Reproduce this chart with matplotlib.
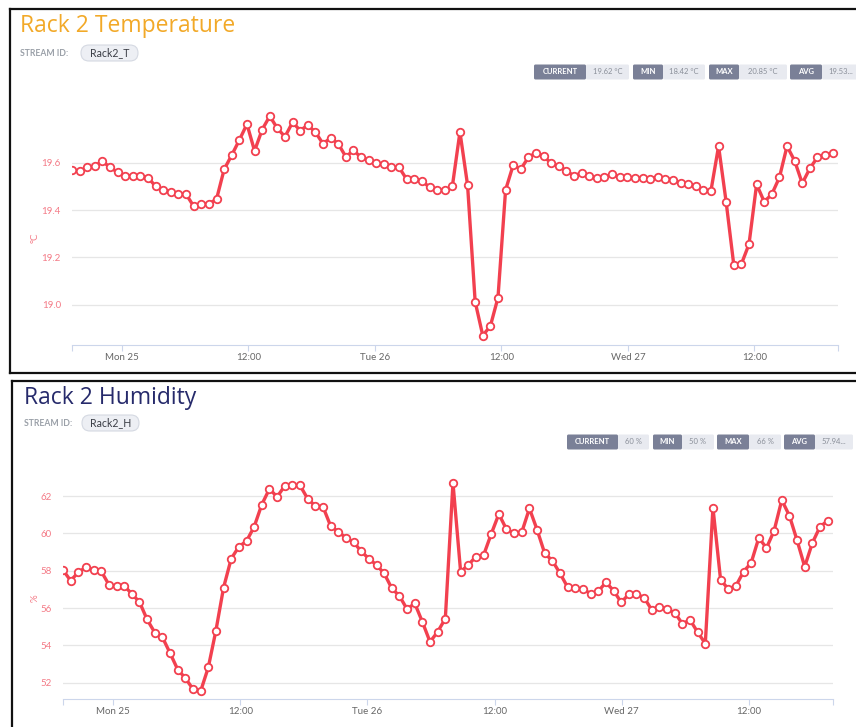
import numpy as np
import matplotlib
matplotlib.use("Agg")
import matplotlib.pyplot as plt
from matplotlib.patches import FancyBboxPatch

plt.rcParams['font.family'] = ['Lato', 'DejaVu Sans']

# sampled readings (one every ~43 min, starting Sun 24 ~19:15)
temperature = [19.57, 19.565, 19.58, 19.586, 19.607, 19.58, 19.56, 19.545, 19.545, 19.545,
               19.537, 19.50, 19.485, 19.478, 19.467, 19.467, 19.416, 19.427, 19.427, 19.446,
               19.572, 19.632, 19.696, 19.763, 19.65, 19.74, 19.797, 19.745, 19.71, 19.771,
               19.736, 19.759, 19.729, 19.68, 19.705, 19.68, 19.625, 19.652, 19.623, 19.611,
               19.60, 19.593, 19.58, 19.58, 19.53, 19.53, 19.524, 19.496, 19.484, 19.484,
               19.50, 19.73, 19.506, 19.013, 18.87, 18.91, 19.03, 19.485, 19.59, 19.573,
               19.623, 19.642, 19.628, 19.597, 19.586, 19.566, 19.544, 19.558, 19.543, 19.534,
               19.538, 19.552, 19.538, 19.538, 19.535, 19.537, 19.531, 19.541, 19.533, 19.528,
               19.514, 19.509, 19.50, 19.485, 19.482, 19.67, 19.433, 19.168, 19.172, 19.256,
               19.509, 19.435, 19.467, 19.538, 19.67, 19.608, 19.513, 19.576, 19.623, 19.631,
               19.64]

humidity = [58.04, 57.47, 57.92, 58.19, 58.04, 57.97, 57.26, 57.17, 57.20, 56.76,
            56.33, 55.39, 54.69, 54.44, 53.59, 52.71, 52.25, 51.66, 51.55, 52.82,
            54.80, 57.10, 58.65, 59.29, 59.59, 60.36, 61.55, 62.39, 61.96, 62.55,
            62.57, 62.57, 61.86, 61.47, 61.43, 60.40, 60.09, 59.77, 59.54, 59.04,
            58.65, 58.31, 57.86, 57.06, 56.65, 55.94, 56.26, 55.26, 54.19, 54.73,
            55.44, 62.71, 57.95, 58.31, 58.76, 58.83, 59.97, 61.04, 60.22, 60.02,
            60.07, 61.34, 60.20, 58.93, 58.54, 57.86, 57.12, 57.06, 57.04, 56.76,
            56.90, 57.38, 56.94, 56.31, 56.74, 56.76, 56.56, 55.90, 56.08, 55.94,
            55.76, 55.16, 55.37, 54.71, 54.10, 61.38, 57.51, 57.03, 57.19, 57.95,
            58.43, 59.77, 59.22, 60.15, 61.79, 60.95, 59.63, 58.22, 59.49, 60.36,
            60.68]

# hours relative to Mon 25 00:00
t_start = -4.73
t_step = 0.7216
hours = t_start + t_step * np.arange(len(temperature))

tick_hours = [0, 12, 24, 36, 48, 60]
tick_labels = ['Mon 25', '12:00', 'Tue 26', '12:00', 'Wed 27', '12:00']

temp_stats = [('CURRENT', '19.62 °C'), ('MIN', '18.42 °C'), ('MAX', '20.85 °C'), ('AVG', '19.53...')]
hum_stats = [('CURRENT', '60 %'), ('MIN', '50 %'), ('MAX', '66 %'), ('AVG', '57.94...')]

W, H = 856, 727
RED = '#f2404f'
PINK = '#f47a86'

fig = plt.figure(figsize=(W / 100, H / 100), dpi=100)
bg = fig.add_axes([0, 0, 1, 1])
bg.set_xlim(0, W)
bg.set_ylim(H, 0)
bg.axis('off')


def px_axes(left, top, right, bottom):
    return fig.add_axes([left / W, 1 - bottom / H, (right - left) / W, (bottom - top) / H],
                        facecolor='none')


def header(x0, y_title, title, color, sid, pill_x, y_sid, stats, box_edges, y_box):
    bg.text(x0, y_title, title, fontsize=16.5, color=color, va='center', ha='left',
            family=['Open Sans', 'DejaVu Sans'])
    bg.text(x0, y_sid, 'STREAM ID:', fontsize=6.2, color='#9aa0a8', va='center',
            ha='left', fontweight='bold')
    bg.add_patch(FancyBboxPatch((pill_x, y_sid - 8), 57, 16,
                                boxstyle='round,pad=0,rounding_size=8',
                                fc='#edeff4', ec='#d5d9e2', lw=0.8))
    bg.text(pill_x + 28.5, y_sid, sid, fontsize=7.6, color='#3a3d45', va='center', ha='center')
    for (lab, val), (a, b, c) in zip(stats, box_edges):
        bg.add_patch(FancyBboxPatch((a, y_box - 7.5), b - a, 15,
                                    boxstyle='round,pad=0,rounding_size=1.5',
                                    fc='#7a8097', ec='none'))
        bg.add_patch(FancyBboxPatch((b, y_box - 7.5), c - b, 15,
                                    boxstyle='round,pad=0,rounding_size=1.5',
                                    fc='#e8eaf0', ec='none'))
        bg.text((a + b) / 2, y_box, lab, fontsize=5.5, color='white', fontweight='bold',
                va='center', ha='center')
        bg.text((b + c) / 2, y_box, val, fontsize=5.5, color='#8a8f99',
                va='center', ha='center')


def chart(ax, values, ylim, yticks, yfmt):
    ax.plot(hours, values, color=RED, lw=2.4, marker='o', ms=5.4, mfc='white',
            mec=RED, mew=1.3, zorder=3, solid_joinstyle='round')
    ax.set_xlim(t_start, t_start + 100.7 * t_step)
    ax.set_ylim(*ylim)
    ax.set_yticks(yticks)
    ax.set_yticklabels([yfmt.format(v) for v in yticks])
    ax.grid(axis='y', color='#e6e6e6', lw=0.9)
    ax.set_axisbelow(True)
    ends = list(ax.get_xlim())
    ax.set_xticks(tick_hours + ends)
    ax.set_xticklabels(tick_labels + ['', ''])
    ax.tick_params(axis='x', length=4, color='#ccd6eb', labelsize=7, labelcolor='#666666', pad=2)
    ax.tick_params(axis='y', length=0, labelsize=7, labelcolor=PINK, pad=8)
    for s in ['top', 'right', 'left']:
        ax.spines[s].set_visible(False)
    ax.spines['bottom'].set_color('#ccd6eb')


# panel frames
bg.plot([10, W], [9, 9], color='#111111', lw=1.6)
bg.plot([10, 10], [9, 373], color='#111111', lw=1.6)
bg.plot([10, W], [373, 373], color='#111111', lw=1.6)
bg.plot([12, W], [381, 381], color='#111111', lw=1.6)
bg.plot([12, 12], [381, H], color='#111111', lw=1.6)

header(20, 26, 'Rack 2 Temperature', '#f2a928', 'Rack2_T', 81, 53, temp_stats,
       [(534, 586, 629), (633, 663, 705), (709, 739, 787), (790, 822, 860)], 72)
header(24, 398, 'Rack 2 Humidity', '#262a6b', 'Rack2_H', 82, 423, hum_stats,
       [(567, 618, 649), (653, 682, 714), (717, 749, 781), (784, 815, 853)], 442)

ax1 = px_axes(72, 100, 838, 345)
chart(ax1, temperature, (18.83, 19.865), [19.0, 19.2, 19.4, 19.6], '{:.1f}')
bg.text(35, 238, '°C', fontsize=7, color=PINK, rotation=90, va='center', ha='center')

ax2 = px_axes(63, 470, 833, 699)
chart(ax2, humidity, (51.13, 63.4), [52, 54, 56, 58, 60, 62], '{:d}')
bg.text(35, 598, '%', fontsize=7, color=PINK, rotation=90, va='center', ha='center')

fig.savefig('out.png', dpi=100)
